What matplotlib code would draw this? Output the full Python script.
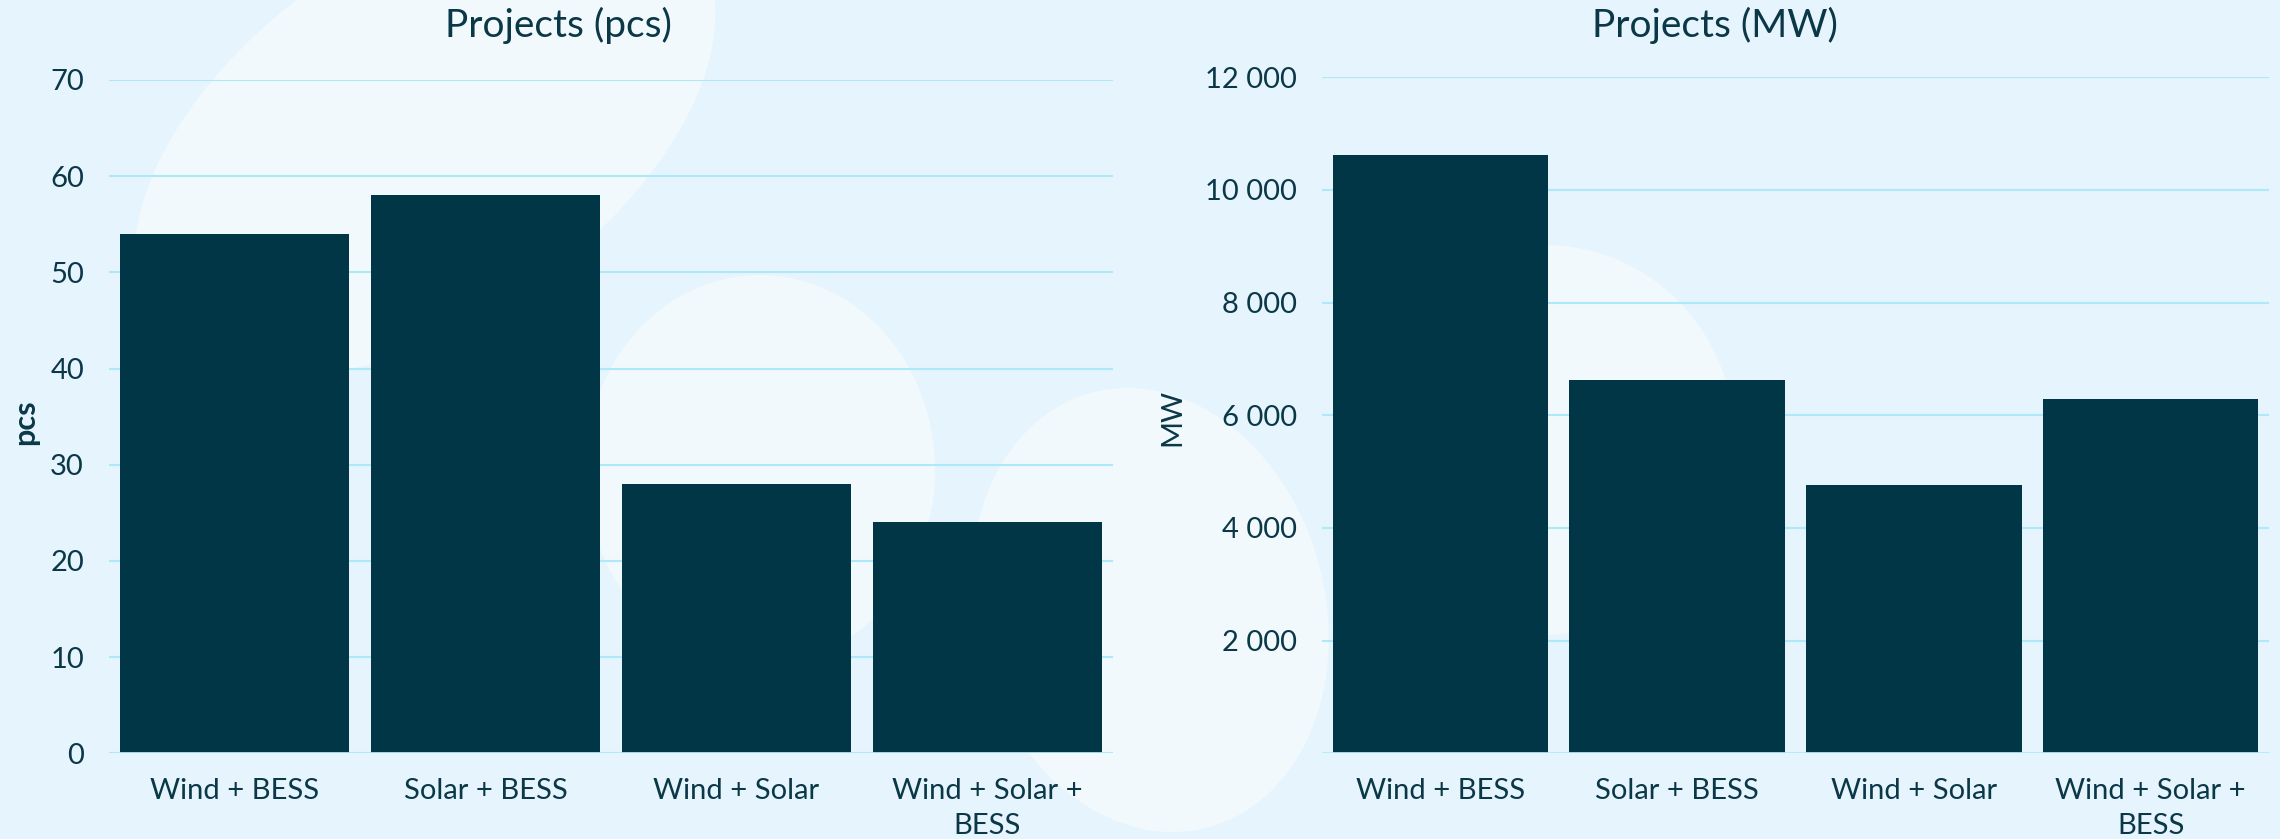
import matplotlib
matplotlib.use("Agg")
import matplotlib.pyplot as plt
from matplotlib.patches import Ellipse

# ---- data ----
categories = ["Wind + BESS", "Solar + BESS", "Wind + Solar", "Wind + Solar +\nBESS"]
projects_pcs = [54, 58, 28, 24]
projects_mw = [10620, 6630, 4755, 6290]
pcs_ticks = [0, 10, 20, 30, 40, 50, 60, 70]
mw_ticks = [2000, 4000, 6000, 8000, 10000, 12000]
mw_tick_labels = ["2 000", "4 000", "6 000", "8 000", "10 000", "12 000"]

BG = "#e6f4fe"
BLOB = "#f1f9fc"
GRID = "#aee9fa"
BAR = "#003646"
TXT = "#0b3847"
FONT = ["Lato", "DejaVu Sans"]

plt.rcParams["font.family"] = FONT

fig = plt.figure(figsize=(22.8, 8.39), dpi=100, facecolor=BG)
W, H = 2280, 839

# background blobs
bg = fig.add_axes([0, 0, 1, 1], zorder=0)
bg.set_xlim(0, W)
bg.set_ylim(H, 0)
bg.axis("off")
bg.set_facecolor(BG)
for (cx, cy, w, h, ang) in [
    (425, 135, 660, 370, -35),
    (760, 470, 350, 390, 0),
    (1150, 610, 350, 450, -15),
    (1545, 440, 380, 390, 0),
]:
    bg.add_patch(Ellipse((cx, cy), w, h, angle=ang, facecolor=BLOB, edgecolor="none"))

def style(ax):
    ax.set_facecolor("none")
    for s in ax.spines.values():
        s.set_visible(False)
    ax.grid(axis="y", color=GRID, linewidth=1.5, zorder=0)
    ax.set_axisbelow(True)
    ax.tick_params(axis="both", length=0, colors=TXT, labelsize=21)
    ax.tick_params(axis="y", pad=18)
    ax.tick_params(axis="x", pad=18)

x = list(range(len(categories)))

ax1 = fig.add_axes([109 / W, 1 - 753.3 / H, (1113 - 109) / W, (753.3 - 80) / H], zorder=2)
style(ax1)
ax1.bar(x, projects_pcs, width=0.91, color=BAR, zorder=2)
ax1.axhline(0, color=GRID, linewidth=2, zorder=3)
ax1.set_xlim(-0.5, 3.5)
ax1.set_ylim(0, 70)
ax1.set_yticks(pcs_ticks)
ax1.set_xticks(x)
ax1.set_xticklabels(categories, linespacing=1.4)

ax2 = fig.add_axes([1322 / W, 1 - 753.3 / H, (2269 - 1322) / W, (753.3 - 77.3) / H], zorder=2)
style(ax2)
ax2.bar(x, projects_mw, width=0.91, color=BAR, zorder=2)
ax2.axhline(0, color=GRID, linewidth=2, zorder=3)
ax2.set_xlim(-0.5, 3.5)
ax2.set_ylim(0, 12000)
ax2.set_yticks(mw_ticks)
ax2.set_yticklabels(mw_tick_labels)
ax2.set_xticks(x)
ax2.set_xticklabels(categories, linespacing=1.4)

fig.text(558 / W, 1 - 25 / H, "Projects (pcs)", ha="center", va="center", fontsize=28, color=TXT)
fig.text(1715 / W, 1 - 25 / H, "Projects (MW)", ha="center", va="center", fontsize=28, color=TXT)
fig.text(25 / W, 1 - 422 / H, "pcs", rotation=90, ha="center", va="center", fontsize=22, color=TXT, fontweight="bold")
fig.text(1172 / W, 1 - 417 / H, "MW", rotation=90, ha="center", va="center", fontsize=21, color=TXT)

fig.savefig("out.png", dpi=100, facecolor=BG)
